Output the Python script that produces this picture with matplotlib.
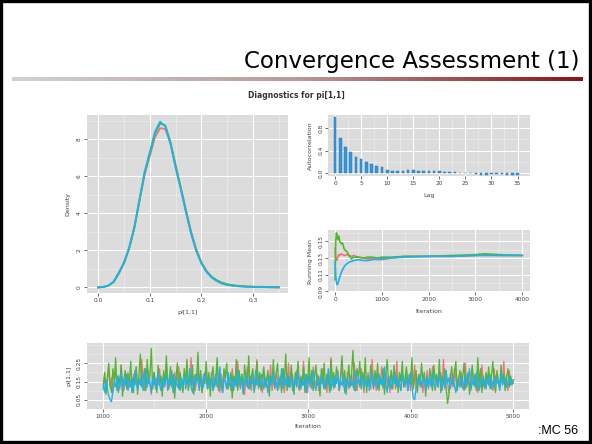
import numpy as np
import matplotlib
matplotlib.use("Agg")
import matplotlib.pyplot as plt
from matplotlib.colors import LinearSegmentedColormap
from matplotlib.ticker import MultipleLocator

# ---- data ----
chain_colors = ["#F2747A", "#52B62E", "#1CB2F2"]

dens_x = [0.00, 0.01, 0.02, 0.03, 0.04, 0.05, 0.06, 0.07, 0.08, 0.09, 0.10, 0.11,
          0.12, 0.13, 0.14, 0.15, 0.16, 0.17, 0.18, 0.19, 0.20, 0.21, 0.22, 0.23,
          0.24, 0.25, 0.26, 0.27, 0.28, 0.29, 0.30, 0.31, 0.32, 0.33, 0.34, 0.35]
dens_red = [0.0, 0.03, 0.10, 0.30, 0.78, 1.35, 2.15, 3.25, 4.70, 6.10, 7.10, 8.10,
            8.60, 8.55, 7.80, 6.60, 5.40, 4.20, 3.00, 2.05, 1.35, 0.88, 0.56, 0.36,
            0.23, 0.15, 0.10, 0.07, 0.05, 0.04, 0.03, 0.02, 0.02, 0.01, 0.01, 0.0]
dens_green = [0.0, 0.02, 0.09, 0.28, 0.74, 1.30, 2.08, 3.18, 4.65, 6.15, 7.20, 8.30,
              8.85, 8.75, 7.85, 6.55, 5.35, 4.10, 2.95, 2.00, 1.32, 0.86, 0.57, 0.38,
              0.25, 0.17, 0.12, 0.09, 0.07, 0.05, 0.04, 0.03, 0.03, 0.02, 0.01, 0.01]
dens_blue = [0.0, 0.02, 0.10, 0.31, 0.80, 1.32, 2.12, 3.22, 4.75, 6.25, 7.30, 8.40,
             8.95, 8.70, 7.75, 6.45, 5.30, 4.05, 2.88, 1.96, 1.28, 0.82, 0.52, 0.33,
             0.20, 0.13, 0.09, 0.06, 0.04, 0.03, 0.02, 0.02, 0.01, 0.01, 0.0, 0.0]

acf_lag = list(range(36))
acf_val = [1.00, 0.62, 0.46, 0.37, 0.29, 0.25, 0.19, 0.16, 0.12, 0.105, 0.064, 0.047,
           0.040, 0.040, 0.058, 0.058, 0.047, 0.047, 0.047, 0.035, 0.030, 0.023, 0.018, 0.012,
           0.006, 0.006, 0.0, -0.018, -0.035, -0.040, -0.023, -0.006, -0.018, -0.035, -0.030, -0.030]

rm_iter = [1, 15, 30, 45, 60, 80, 100, 130, 160, 200, 250, 300, 350, 400, 500, 600,
           700, 800, 900, 1000, 1200, 1500, 2000, 2500, 3000, 3200, 3500, 4000]
rm_red = [0.142, 0.130, 0.127, 0.128, 0.131, 0.134, 0.133, 0.135, 0.134, 0.133, 0.134, 0.133,
          0.132, 0.133, 0.131, 0.130, 0.129, 0.129, 0.128, 0.128, 0.130, 0.132, 0.132, 0.132,
          0.133, 0.134, 0.133, 0.133]
rm_green = [0.104, 0.150, 0.160, 0.157, 0.152, 0.156, 0.150, 0.147, 0.148, 0.140, 0.138, 0.133,
            0.129, 0.131, 0.131, 0.130, 0.131, 0.131, 0.130, 0.131, 0.131, 0.132, 0.132, 0.133,
            0.134, 0.135, 0.134, 0.133]
rm_blue = [0.125, 0.110, 0.101, 0.098, 0.099, 0.103, 0.107, 0.112, 0.116, 0.120, 0.123, 0.125,
           0.126, 0.127, 0.128, 0.127, 0.127, 0.128, 0.129, 0.129, 0.130, 0.131, 0.132, 0.132,
           0.133, 0.133, 0.133, 0.133]

# trace values in hundredths, iterations 1001..5000
trace_red = [14, 19, 10, 16, 22, 12, 17, 9, 15, 21, 13, 18, 11, 24, 15, 10, 17, 13, 20, 12,
             16, 9, 19, 14, 23, 11, 17, 13, 27, 15, 10, 18, 12, 21, 14, 8, 16, 20, 11, 17,
             13, 22, 15, 10, 19, 12, 25, 16, 11, 18, 14, 9, 20, 13, 17, 23, 12, 15, 10, 19,
             14, 21, 11, 16, 28, 13, 18, 10, 15, 22, 12, 17, 9, 19, 14, 24, 11, 16, 13, 20,
             10, 17, 13, 25, 15, 9, 19, 12, 21, 14, 11, 18, 16, 10, 22, 13, 17, 12, 26, 15,
             11, 19, 14, 8, 17, 23, 12, 16, 10, 20, 15, 13, 27, 11, 18, 14, 9, 21, 16, 12,
             19, 13, 24, 10, 16, 12, 20, 15, 11, 18, 14, 22, 9, 17, 13, 25, 12, 16, 19, 11,
             15, 21, 13, 10, 18, 14, 26, 12, 17, 9, 20, 15, 11, 23, 16, 13, 19, 10, 17, 14,
             22, 12, 16, 9, 19, 13, 28, 15, 11, 18, 14, 21, 10, 16, 24, 12, 17, 13, 20, 11,
             15, 19, 12, 25, 14, 10, 17, 13, 22, 16, 9, 18, 12, 20, 15, 11, 27, 14, 17, 10,
             19, 13, 16, 23, 11, 15, 20, 12, 17, 9, 21, 14, 18, 11, 26, 13, 16, 10, 19, 15,
             12, 22, 14, 17, 10, 20, 13, 24, 11, 16, 19, 12, 15, 9, 18, 14, 21, 11, 17, 13,
             23, 15, 10, 18, 12, 16, 20, 13, 27, 11, 17, 14, 9, 19, 15, 12, 22, 16, 10, 18,
             13, 20, 11, 15, 25, 12, 17, 14, 10, 21, 16, 13, 19, 9, 18, 12, 24, 15, 11, 17,
             14, 20, 12, 16, 10, 22, 13, 18, 15, 11, 19, 14, 26, 12, 17, 10, 21, 15, 13, 16]
trace_green = [11, 20, 8, 17, 25, 13, 9, 22, 15, 28, 10, 18, 12, 24, 7, 16, 21, 11, 19, 14,
               26, 9, 17, 13, 23, 8, 19, 30, 12, 16, 22, 10, 27, 14, 18, 33, 11, 20, 15, 9,
               24, 13, 18, 7, 21, 14, 29, 10, 16, 23, 12, 19, 6, 17, 25, 11, 20, 14, 9, 22,
               15, 27, 10, 18, 13, 24, 8, 19, 16, 31, 12, 21, 9, 17, 14, 26, 11, 20, 7, 18,
               23, 12, 16, 28, 10, 19, 14, 9, 22, 17, 25, 11, 15, 20, 6, 18, 13, 27, 10, 21,
               14, 19, 8, 24, 16, 12, 29, 11, 18, 22, 9, 15, 26, 13, 20, 10, 17, 23, 12, 16,
               21, 7, 18, 14, 27, 11, 19, 25, 13, 16, 9, 22, 15, 30, 10, 18, 12, 24, 14, 8,
               20, 16, 26, 11, 17, 13, 23, 9, 19, 15, 28, 12, 21, 10, 17, 24, 13, 18, 7, 22,
               14, 25, 11, 19, 16, 9, 27, 13, 20, 12, 23, 17, 10, 18, 29, 14, 21, 8, 16, 24,
               12, 19, 32, 15, 10, 22, 17, 26, 11, 20, 14, 28, 9, 18, 13, 24, 16, 11, 21, 15,
               25, 10, 17, 13, 22, 8, 19, 27, 12, 16, 21, 11, 24, 14, 18, 9, 20, 15, 26, 12,
               17, 23, 10, 19, 14, 28, 11, 16, 21, 9, 18, 13, 25, 15, 20, 7, 17, 12, 22, 16,
               10, 24, 15, 19, 12, 27, 9, 18, 14, 22, 11, 3, 8, 17, 23, 13, 19, 26, 10, 16,
               21, 12, 18, 25, 11, 15, 20, 8, 17, 24, 13, 19, 10, 28, 14, 22, 9, 16, 12, 20,
               15, 23, 11, 18, 26, 13, 9, 21, 16, 12, 24, 14, 19, 10, 17, 22, 12, 18, 14, 16]
trace_blue = [13, 9, 16, 11, 7, 5, 4, 10, 15, 12, 18, 9, 14, 20, 11, 16, 13, 19, 10, 15,
              12, 17, 9, 21, 14, 11, 16, 13, 19, 10, 15, 22, 12, 17, 14, 9, 18, 13, 16, 11,
              20, 14, 10, 17, 12, 15, 19, 11, 16, 13, 21, 9, 15, 18, 12, 14, 10, 17, 13, 19,
              11, 16, 14, 22, 12, 9, 17, 13, 19, 15, 10, 18, 14, 12, 20, 16, 11, 15, 13, 18,
              10, 14, 19, 12, 16, 23, 13, 9, 17, 15, 11, 20, 14, 12, 18, 10, 16, 13, 21, 15,
              12, 17, 9, 15, 19, 13, 11, 18, 14, 16, 10, 21, 13, 15, 12, 19, 16, 11, 17, 14,
              9, 18, 13, 16, 20, 12, 15, 10, 17, 14, 22, 11, 16, 13, 19, 12, 15, 18, 10, 14,
              17, 12, 20, 15, 11, 16, 13, 19, 9, 14, 18, 12, 16, 21, 13, 10, 17, 15, 12, 19,
              14, 11, 16, 13, 22, 15, 10, 18, 12, 17, 14, 20, 11, 15, 13, 19, 9, 16, 14, 12,
              18, 13, 15, 10, 21, 14, 17, 12, 16, 19, 11, 15, 13, 18, 10, 16, 20, 12, 14, 17,
              11, 19, 14, 16, 12, 23, 13, 9, 18, 15, 11, 17, 14, 20, 12, 16, 13, 10, 19, 15,
              13, 17, 10, 15, 20, 12, 6, 5, 11, 16, 14, 19, 12, 15, 17, 10, 18, 13, 16, 12,
              20, 14, 11, 17, 13, 19, 15, 10, 16, 12, 21, 14, 17, 11, 15, 18, 13, 9, 16, 14,
              12, 18, 15, 10, 19, 13, 16, 22, 11, 14, 17, 12, 20, 15, 10, 16, 13, 18, 14, 11,
              17, 13, 19, 11, 15, 12, 18, 14, 16, 10, 20, 13, 15, 17, 12, 14, 18, 13, 15, 14]
trace_start, trace_end = 1001, 5000


def gg_style(ax, rotate_y=True):
    ax.set_facecolor("#DCDCDC")
    ax.set_axisbelow(True)
    ax.grid(True, which="major", color="white", lw=0.8)
    ax.grid(True, which="minor", color="#EFEFEF", lw=0.4)
    for s in ax.spines.values():
        s.set_visible(False)
    ax.tick_params(which="major", length=2, width=0.6, color="#555555",
                   labelsize=4.2, labelcolor="#444444", pad=1.5)
    ax.tick_params(which="minor", length=0)
    if rotate_y:
        for lab in ax.get_yticklabels():
            lab.set_rotation(90)
            lab.set_va("center")


fig = plt.figure(figsize=(5.92, 4.44), dpi=100)
fig.patch.set_facecolor("white")

# slide frame
fig.add_artist(plt.Rectangle((0.002, 0.004), 0.995, 0.993, transform=fig.transFigure,
                             fill=False, ec="black", lw=2.4))

# slide title + gradient rule
fig.text(0.979, 0.862, "Convergence Assessment (1)", ha="right", va="center",
         fontsize=16.5, family="DejaVu Sans", color="black")
grad_ax = fig.add_axes([12 / 592, 1 - 81 / 444, 571 / 592, 4.5 / 444])
cmap = LinearSegmentedColormap.from_list("rule", ["#D2D2D2", "#B89A9A", "#8C1414"])
grad_ax.imshow(np.linspace(0, 1, 256)[None, :], aspect="auto", cmap=cmap)
grad_ax.axis("off")

fig.text(0.50, 0.786, "Diagnostics for pi[1,1]", ha="center", va="center",
         fontsize=5.5, fontweight="bold", color="#333333")
fig.text(0.976, 0.030, ":MC 56", ha="right", va="center", fontsize=9,
         family="Liberation Sans", color="black")

# density
ax1 = fig.add_axes([0.1465, 0.3394, 0.3405, 0.4016])
for ys, c in zip([dens_red, dens_green, dens_blue], chain_colors):
    ax1.plot(dens_x, ys, color=c, lw=1.3)
ax1.set_xlim(-0.022, 0.368)
ax1.set_ylim(-0.32, 9.31)
ax1.set_xticks([0.0, 0.1, 0.2, 0.3])
ax1.set_xticklabels(["0.0", "0.1", "0.2", "0.3"])
ax1.set_yticks([0, 2, 4, 6, 8])
ax1.xaxis.set_minor_locator(MultipleLocator(0.05))
ax1.yaxis.set_minor_locator(MultipleLocator(1))
ax1.set_xlabel("pi[1,1]", fontsize=4.5, color="#444444", labelpad=5)
ax1.set_ylabel("Density", fontsize=4.5, color="#444444", labelpad=5)
gg_style(ax1)

# autocorrelation
ax2 = fig.add_axes([0.5546, 0.6036, 0.3407, 0.1374])
ax2.bar(acf_lag, acf_val, width=0.5, color="#3399DD", edgecolor="#1F6FA8", lw=0.3)
ax2.set_xlim(-1.3, 37.4)
ax2.set_ylim(-0.05, 1.03)
ax2.set_xticks(range(0, 36, 5))
ax2.set_yticks([0.0, 0.4, 0.8])
ax2.set_yticklabels(["0.0", "0.4", "0.8"])
ax2.xaxis.set_minor_locator(MultipleLocator(2.5))
ax2.yaxis.set_minor_locator(MultipleLocator(0.2))
ax2.set_xlabel("Lag", fontsize=4.5, color="#444444", labelpad=5)
ax2.set_ylabel("Autocorrelation", fontsize=4.5, color="#444444", labelpad=4)
gg_style(ax2)

# running mean
ax3 = fig.add_axes([0.5546, 0.3417, 0.3407, 0.1403])
for ys, c in zip([rm_red, rm_green, rm_blue], chain_colors):
    ax3.plot(rm_iter, ys, color=c, lw=1.2)
ax3.set_xlim(-143, 4166)
ax3.set_ylim(0.089, 0.1635)
ax3.set_xticks([0, 1000, 2000, 3000, 4000])
ax3.set_yticks([0.09, 0.11, 0.13, 0.15])
ax3.set_yticklabels(["0.09", "0.11", "0.13", "0.15"])
ax3.xaxis.set_minor_locator(MultipleLocator(500))
ax3.yaxis.set_minor_locator(MultipleLocator(0.01))
ax3.set_xlabel("Iteration", fontsize=4.5, color="#444444", labelpad=5)
ax3.set_ylabel("Running Mean", fontsize=4.5, color="#444444", labelpad=4)
gg_style(ax3)

# trace
ax4 = fig.add_axes([0.1466, 0.0788, 0.747, 0.1486])
for ys, c in zip([trace_red, trace_green, trace_blue], chain_colors):
    it = np.linspace(trace_start, trace_end, len(ys))
    ax4.plot(it, np.array(ys) / 100, color=c, lw=0.95)
ax4.set_xlim(840, 5152)
ax4.set_ylim(0.0, 0.36)
ax4.set_xticks([1000, 2000, 3000, 4000, 5000])
ax4.set_yticks([0.05, 0.15, 0.25])
ax4.set_yticklabels(["0.05", "0.15", "0.25"])
ax4.xaxis.set_minor_locator(MultipleLocator(500))
ax4.yaxis.set_minor_locator(MultipleLocator(0.05))
ax4.set_xlabel("Iteration", fontsize=4.5, color="#444444", labelpad=4)
ax4.set_ylabel("pi[1,1]", fontsize=4.5, color="#444444", labelpad=4)
gg_style(ax4)

fig.savefig("out.png", dpi=100)
